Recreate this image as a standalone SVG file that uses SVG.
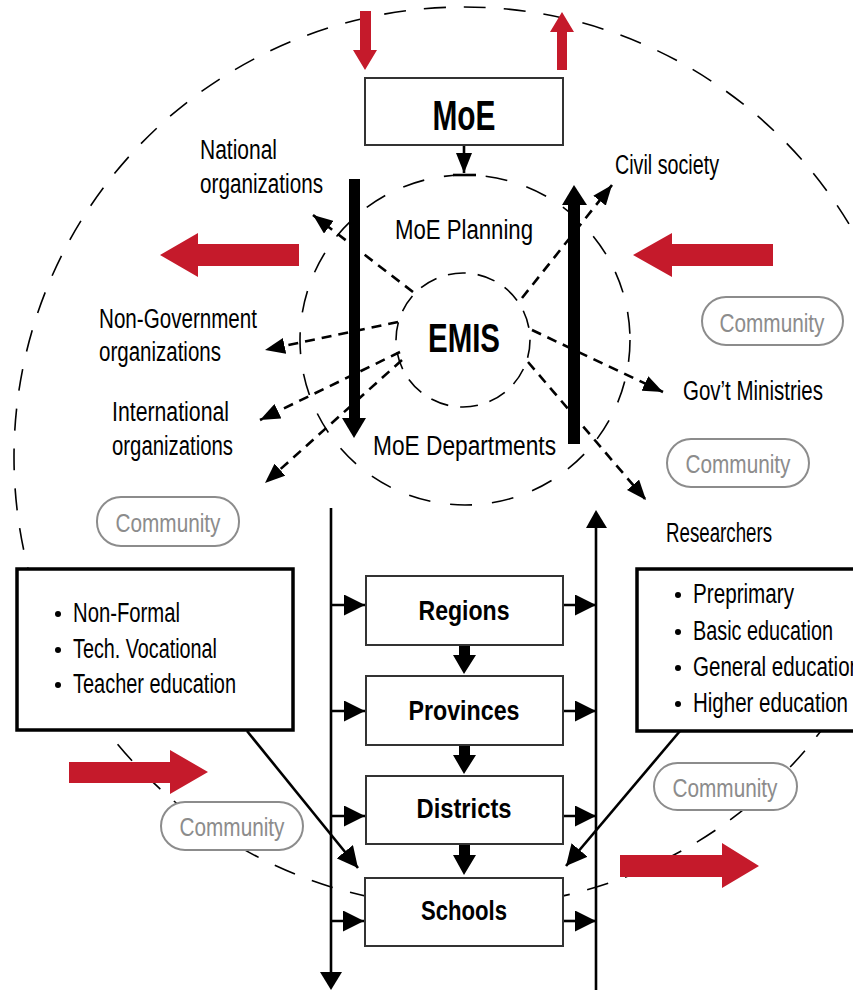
<svg xmlns="http://www.w3.org/2000/svg" width="853" height="990" viewBox="0 0 853 990">
<style>
.t{font-family:"Liberation Sans Narrow","Liberation Sans",Arial,sans-serif;font-size:27px;fill:#000}
.b{font-family:"Liberation Sans Narrow","Liberation Sans",Arial,sans-serif;font-weight:bold;fill:#000}
.cm{font-family:"Liberation Sans Narrow","Liberation Sans",Arial,sans-serif;font-size:26px;fill:#8c8c8c;text-anchor:middle}
.pill{fill:#fff;stroke:#8c8c8c;stroke-width:2}
.box{fill:#fff;stroke:#333;stroke-width:2}
.bigbox{fill:#fff;stroke:#000;stroke-width:3.5}
.circ{fill:none;stroke:#000;stroke-width:1.6}
.dc{fill:none;stroke:#000;stroke-width:2.6;stroke-dasharray:10 7}
.sl{fill:none;stroke:#000;stroke-width:2.6}
.red{fill:#c51a2b}
</style>
<defs>
<marker id="ah" viewBox="0 0 20 16" refX="20" refY="8" markerWidth="20" markerHeight="16" markerUnits="userSpaceOnUse" orient="auto"><path d="M0,0 L20,8 L0,16 z" fill="#000"/></marker>
<marker id="sa" viewBox="0 0 21 21" refX="21" refY="10.5" markerWidth="21" markerHeight="21" markerUnits="userSpaceOnUse" orient="auto"><path d="M0,0 L21,10.5 L0,21 z" fill="#000"/></marker>
</defs>

<g id="circles">
<circle class="circ" cx="464" cy="457" r="450" stroke-dasharray="22 18"/>
<circle class="circ" cx="465" cy="340" r="165" stroke-dasharray="22 20"/>
<circle class="circ" cx="463" cy="340" r="67" stroke-dasharray="18 12"/>
</g>

<g id="red-arrows">
<polygon class="red" points="360,11 371,11 371,50 377,50 365,70 353,50 360,50"/>
<polygon class="red" points="557,70 567,70 567,32 574,32 562,12 550,32 557,32"/>
<polygon class="red" points="299,244 198,244 198,233 160,255 198,277 198,266 299,266"/>
<polygon class="red" points="773,244 672,244 672,233 633,255 672,277 672,266 773,266"/>
<polygon class="red" points="69,762 170,762 170,750 208,772 170,794 170,783 69,783"/>
<polygon class="red" points="620,855 722,855 722,843 759,866 722,888 722,877 620,877"/>
</g>

<g id="connectors">
<line x1="464" y1="145" x2="464" y2="173" class="sl" stroke-width="2" marker-end="url(#ah)"/>
<line x1="453" y1="175" x2="476" y2="175" class="sl" stroke-width="1.8"/>
<rect x="349" y="179" width="11" height="240" fill="#000"/>
<polygon points="342,418 366,418 354,438" fill="#000"/>
<rect x="568" y="204" width="12" height="240" fill="#000"/>
<polygon points="562,205 587,205 574,185" fill="#000"/>
<line class="dc" x1="413" y1="292" x2="313" y2="215" marker-end="url(#ah)"/>
<line class="dc" x1="398" y1="322" x2="265" y2="350" marker-end="url(#ah)"/>
<line class="dc" x1="400" y1="352" x2="260" y2="420" marker-end="url(#ah)"/>
<line class="dc" x1="402" y1="360" x2="265" y2="483" marker-end="url(#ah)"/>
<line class="dc" x1="522" y1="298" x2="612" y2="185" marker-end="url(#ah)"/>
<line class="dc" x1="532" y1="330" x2="663" y2="392" marker-end="url(#ah)"/>
<line class="dc" x1="528" y1="362" x2="646" y2="500" marker-end="url(#ah)"/>
<line class="sl" x1="331" y1="508" x2="331" y2="975"/>
<polygon points="320,972 342,972 331,990" fill="#000"/>
<line class="sl" x1="596" y1="990" x2="596" y2="526"/>
<polygon points="586,528 607,528 596,510" fill="#000"/>
<line class="sl" x1="331" y1="605" x2="365" y2="605" marker-end="url(#sa)"/>
<line class="sl" x1="331" y1="711" x2="365" y2="711" marker-end="url(#sa)"/>
<line class="sl" x1="331" y1="816" x2="365" y2="816" marker-end="url(#sa)"/>
<line class="sl" x1="331" y1="921" x2="364" y2="921" marker-end="url(#sa)"/>
<line class="sl" x1="563" y1="605" x2="596" y2="605" marker-end="url(#sa)"/>
<line class="sl" x1="563" y1="711" x2="596" y2="711" marker-end="url(#sa)"/>
<line class="sl" x1="563" y1="816" x2="596" y2="816" marker-end="url(#sa)"/>
<line class="sl" x1="564" y1="921" x2="596" y2="921" marker-end="url(#sa)"/>
<polygon points="459,645 470,645 470,655 476,655 464,674 453,655 459,655" fill="#000"/>
<polygon points="459,745 470,745 470,755 476,755 464,774 453,755 459,755" fill="#000"/>
<polygon points="459,844 470,844 470,855 476,855 464,875 453,855 459,855" fill="#000"/>
<line class="sl" x1="247" y1="731" x2="358" y2="868" marker-end="url(#sa)"/>
<line class="sl" x1="680" y1="731" x2="566" y2="866" marker-end="url(#sa)"/>
</g>

<g id="moe">
<rect class="box" x="365" y="78" width="198" height="67"/>
<text class="b" x="464" y="130" font-size="42" text-anchor="middle" textLength="63" lengthAdjust="spacingAndGlyphs">MoE</text>
</g>
<g id="moe-planning"><text class="t" x="464" y="239" text-anchor="middle" textLength="138" lengthAdjust="spacingAndGlyphs">MoE Planning</text></g>
<g id="emis"><text class="b" x="464" y="352" font-size="40" text-anchor="middle" textLength="72" lengthAdjust="spacingAndGlyphs">EMIS</text></g>
<g id="moe-departments"><text class="t" x="373" y="455" textLength="183" lengthAdjust="spacingAndGlyphs">MoE Departments</text></g>

<g id="national">
<text class="t" x="200" y="159" textLength="77" lengthAdjust="spacingAndGlyphs">National</text>
<text class="t" x="200" y="193" textLength="123" lengthAdjust="spacingAndGlyphs">organizations</text>
</g>
<g id="ngo">
<text class="t" x="99" y="328" textLength="158" lengthAdjust="spacingAndGlyphs">Non-Government</text>
<text class="t" x="99" y="361" textLength="122" lengthAdjust="spacingAndGlyphs">organizations</text>
</g>
<g id="international">
<text class="t" x="112" y="421" textLength="117" lengthAdjust="spacingAndGlyphs">International</text>
<text class="t" x="112" y="455" textLength="121" lengthAdjust="spacingAndGlyphs">organizations</text>
</g>
<g id="civil"><text class="t" x="615" y="174" textLength="104" lengthAdjust="spacingAndGlyphs">Civil society</text></g>
<g id="govt"><text class="t" x="683" y="400" textLength="140" lengthAdjust="spacingAndGlyphs">Gov’t Ministries</text></g>
<g id="researchers"><text class="t" x="666" y="542" textLength="106" lengthAdjust="spacingAndGlyphs">Researchers</text></g>

<g id="community-1"><rect class="pill" x="702" y="297" width="141" height="48" rx="24"/><text class="cm" x="772" y="332" textLength="105" lengthAdjust="spacingAndGlyphs">Community</text></g>
<g id="community-2"><rect class="pill" x="667" y="439" width="142" height="48" rx="24"/><text class="cm" x="738" y="473" textLength="105" lengthAdjust="spacingAndGlyphs">Community</text></g>
<g id="community-3"><rect class="pill" x="97" y="497" width="142" height="49" rx="24"/><text class="cm" x="168" y="532" textLength="105" lengthAdjust="spacingAndGlyphs">Community</text></g>
<g id="community-4"><rect class="pill" x="161" y="802" width="142" height="48" rx="24"/><text class="cm" x="232" y="836" textLength="105" lengthAdjust="spacingAndGlyphs">Community</text></g>
<g id="community-5"><rect class="pill" x="654" y="763" width="143" height="47" rx="23.5"/><text class="cm" x="725" y="797" textLength="105" lengthAdjust="spacingAndGlyphs">Community</text></g>

<g id="left-box">
<rect class="bigbox" x="17" y="569" width="276" height="161"/>
<circle cx="58" cy="614" r="3" fill="#000"/>
<circle cx="58" cy="650" r="3" fill="#000"/>
<circle cx="58" cy="685" r="3" fill="#000"/>
<text class="t" x="73" y="622" textLength="107" lengthAdjust="spacingAndGlyphs">Non-Formal</text>
<text class="t" x="73" y="658" textLength="144" lengthAdjust="spacingAndGlyphs">Tech. Vocational</text>
<text class="t" x="73" y="693" textLength="163" lengthAdjust="spacingAndGlyphs">Teacher education</text>
</g>
<g id="right-box">
<rect class="bigbox" x="637" y="569" width="240" height="162"/>
<circle cx="678" cy="595" r="3" fill="#000"/>
<circle cx="678" cy="632" r="3" fill="#000"/>
<circle cx="678" cy="668" r="3" fill="#000"/>
<circle cx="678" cy="704" r="3" fill="#000"/>
<text class="t" x="693" y="603" textLength="101" lengthAdjust="spacingAndGlyphs">Preprimary</text>
<text class="t" x="693" y="640" textLength="140" lengthAdjust="spacingAndGlyphs">Basic education</text>
<text class="t" x="693" y="676" textLength="168" lengthAdjust="spacingAndGlyphs">General education</text>
<text class="t" x="693" y="712" textLength="155" lengthAdjust="spacingAndGlyphs">Higher education</text>
</g>

<g id="regions"><rect class="box" x="366" y="576" width="197" height="69"/><text class="b" x="464" y="620" font-size="28" text-anchor="middle" textLength="91" lengthAdjust="spacingAndGlyphs">Regions</text></g>
<g id="provinces"><rect class="box" x="366" y="676" width="197" height="69"/><text class="b" x="464" y="720" font-size="28" text-anchor="middle" textLength="111" lengthAdjust="spacingAndGlyphs">Provinces</text></g>
<g id="districts"><rect class="box" x="366" y="776" width="197" height="68"/><text class="b" x="464" y="818" font-size="28" text-anchor="middle" textLength="95" lengthAdjust="spacingAndGlyphs">Districts</text></g>
<g id="schools"><rect class="box" x="365" y="878" width="198" height="68" stroke="#000" stroke-width="4"/><text class="b" x="464" y="920" font-size="28" text-anchor="middle" textLength="86" lengthAdjust="spacingAndGlyphs">Schools</text></g>
</svg>
